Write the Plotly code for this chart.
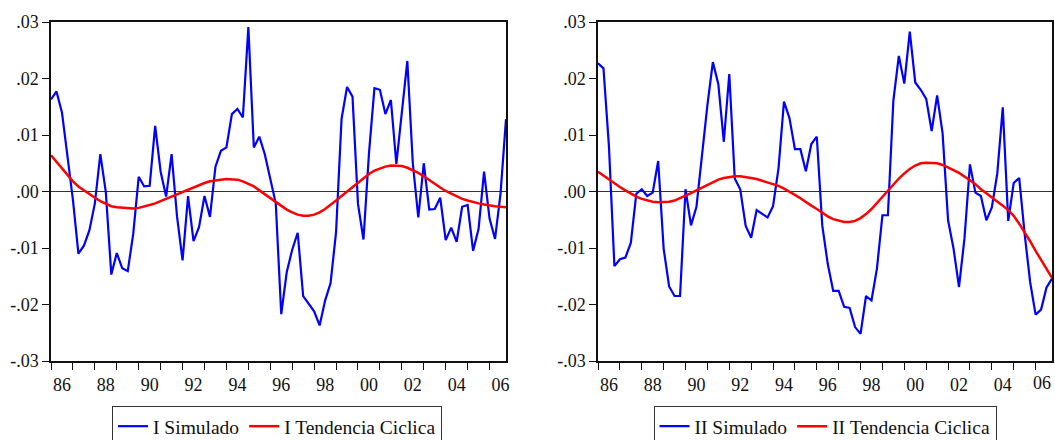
import plotly.graph_objects as go

# Quarterly observations 1986Q1 .. 2006Q4 (84 quarters)
quarters = [1986 + q / 4 for q in range(84)]

sim_I = [
    0.0163, 0.0177, 0.0140, 0.0060, -0.0015, -0.0110, -0.0096, -0.0069, -0.0021, 0.0066,
    -0.0001, -0.0147, -0.0109, -0.0136, -0.0141, -0.0075, 0.0026, 0.0009, 0.0010, 0.0116,
    0.0035, -0.0009, 0.0066, -0.0045, -0.0122, -0.0008, -0.0088, -0.0063, -0.0008, -0.0045,
    0.0044, 0.0072, 0.0078, 0.0137, 0.0146, 0.0131, 0.0291, 0.0078, 0.0097, 0.0066,
    0.0023, -0.0021, -0.0217, -0.0143, -0.0103, -0.0073, -0.0185, -0.0198, -0.0212, -0.0237,
    -0.0193, -0.0162, -0.0072, 0.0128, 0.0185, 0.0168, -0.0022, -0.0085, 0.0067, 0.0183,
    0.0180, 0.0137, 0.0162, 0.0049, 0.0141, 0.0231, 0.0050, -0.0046, 0.0050, -0.0032,
    -0.0031, -0.0011, -0.0086, -0.0064, -0.0089, -0.0027, -0.0024, -0.0105, -0.0066, 0.0035,
    -0.0048, -0.0084, -0.0004, 0.0128,
]

trend_I = [
    0.0064, 0.0052, 0.0040, 0.0028, 0.0018, 0.0009, 0.0002, -0.0005, -0.0011, -0.0017,
    -0.0022, -0.0026, -0.0028, -0.0029, -0.0030, -0.0030, -0.0029, -0.0027, -0.0024, -0.0021,
    -0.0017, -0.0013, -0.0009, -0.0004, 0.0000, 0.0004, 0.0008, 0.0012, 0.0015, 0.0018,
    0.0020, 0.0021, 0.0022, 0.0022, 0.0021, 0.0018, 0.0014, 0.0009, 0.0002, -0.0005,
    -0.0012, -0.0019, -0.0026, -0.0032, -0.0037, -0.0041, -0.0043, -0.0043, -0.0041, -0.0037,
    -0.0031, -0.0024, -0.0016, -0.0008, 0.0000, 0.0008, 0.0016, 0.0024, 0.0031, 0.0037,
    0.0041, 0.0044, 0.0046, 0.0046, 0.0045, 0.0042, 0.0038, 0.0033, 0.0027, 0.0020,
    0.0013, 0.0007, 0.0001, -0.0004, -0.0009, -0.0013, -0.0016, -0.0019, -0.0021, -0.0023,
    -0.0025, -0.0026, -0.0027, -0.0028,
]

sim_II = [
    0.0227, 0.0218, 0.0080, -0.0132, -0.0120, -0.0117, -0.0091, -0.0004, 0.0004, -0.0008,
    -0.0002, 0.0054, -0.0101, -0.0168, -0.0185, -0.0185, 0.0004, -0.0060, -0.0027, 0.0062,
    0.0153, 0.0229, 0.0190, 0.0088, 0.0208, 0.0023, 0.0004, -0.0061, -0.0082, -0.0033,
    -0.0040, -0.0046, -0.0026, 0.0041, 0.0159, 0.0130, 0.0075, 0.0075, 0.0036, 0.0084,
    0.0097, -0.0060, -0.0128, -0.0176, -0.0176, -0.0204, -0.0206, -0.0240, -0.0252, -0.0185,
    -0.0193, -0.0136, -0.0042, -0.0042, 0.0161, 0.0240, 0.0191, 0.0283, 0.0193, 0.0180,
    0.0164, 0.0107, 0.0170, 0.0103, -0.0051, -0.0101, -0.0169, -0.0083, 0.0048, -0.0002,
    -0.0008, -0.0051, -0.0028, 0.0032, 0.0149, -0.0052, 0.0015, 0.0024, -0.0075, -0.0160,
    -0.0218, -0.0209, -0.0170, -0.0154,
]

trend_II = [
    0.0035, 0.0028, 0.0021, 0.0014, 0.0008, 0.0002, -0.0004, -0.0009, -0.0013, -0.0016,
    -0.0018, -0.0019, -0.0019, -0.0018, -0.0016, -0.0012, -0.0008, -0.0003, 0.0002, 0.0007,
    0.0012, 0.0017, 0.0021, 0.0024, 0.0026, 0.0027, 0.0027, 0.0026, 0.0024, 0.0022,
    0.0019, 0.0016, 0.0013, 0.0010, 0.0005, 0.0000, -0.0006, -0.0012, -0.0019, -0.0025,
    -0.0031, -0.0038, -0.0044, -0.0049, -0.0052, -0.0054, -0.0054, -0.0052, -0.0047, -0.0040,
    -0.0031, -0.0020, -0.0009, 0.0002, 0.0013, 0.0023, 0.0032, 0.0040, 0.0046, 0.0050,
    0.0051, 0.0051, 0.0050, 0.0047, 0.0043, 0.0038, 0.0033, 0.0027, 0.0020, 0.0013,
    0.0004, -0.0003, -0.0010, -0.0017, -0.0025, -0.0033, -0.0043, -0.0057, -0.0072, -0.0088,
    -0.0105, -0.0121, -0.0137, -0.0153,
]

year_ticks = list(range(1986, 2007, 2))
year_labels = ["%02d" % (y % 100) for y in year_ticks]
y_ticks = [-0.03, -0.02, -0.01, 0.0, 0.01, 0.02, 0.03]
y_labels = ["-.03", "-.02", "-.01", ".00", ".01", ".02", ".03"]

FONT = "'Liberation Serif', 'Times New Roman', Times, serif"
BLUE = "#0000FF"
RED = "#FF0000"
W, H = 1055, 440
T = 22
B = H - 361


def fx(px):
    return px / W


fig = go.Figure()
fig.add_trace(go.Scatter(x=quarters, y=sim_I, mode="lines", name="I Simulado",
                         line=dict(color=BLUE, width=2.2), xaxis="x", yaxis="y", legend="legend"))
fig.add_trace(go.Scatter(x=quarters, y=trend_I, mode="lines", name="I Tendencia Ciclica",
                         line=dict(color=RED, width=2.5), xaxis="x", yaxis="y", legend="legend"))
fig.add_trace(go.Scatter(x=quarters, y=sim_II, mode="lines", name="II Simulado",
                         line=dict(color=BLUE, width=2.2), xaxis="x2", yaxis="y2", legend="legend2"))
fig.add_trace(go.Scatter(x=quarters, y=trend_II, mode="lines", name="II Tendencia Ciclica",
                         line=dict(color=RED, width=2.5), xaxis="x2", yaxis="y2", legend="legend2"))

tickfont = dict(family=FONT, size=18, color="#111")
xcommon = dict(range=[1986, 2006.75], tickmode="array", tickvals=year_ticks,
               ticks="outside", ticklen=7, tickwidth=1.2, tickcolor="#111", ticklabelshift=11,
               minor=dict(tickmode="linear", tick0=1986, dtick=1, ticks="outside", ticklen=7,
                          tickwidth=1.2, tickcolor="#111"),
               showline=True, mirror=True, linecolor="#111", linewidth=1.5,
               showgrid=False, zeroline=False, fixedrange=True, tickfont=tickfont)
ycommon = dict(range=[-0.03, 0.03], tickmode="array", tickvals=y_ticks, ticktext=y_labels,
               ticks="outside", ticklen=7, tickwidth=1.2, tickcolor="#111",
               showline=True, mirror=True, linecolor="#111", linewidth=1.5,
               showgrid=False, zeroline=True, zerolinecolor="#333", zerolinewidth=1,
               fixedrange=True, tickfont=tickfont)

legend_common = dict(orientation="h", yanchor="top", xanchor="center",
                     bordercolor="#333", borderwidth=1, bgcolor="white",
                     font=dict(family=FONT, size=19.5, color="#111"), itemwidth=30)
plot_h = H - T - B
leg_y = (361 - 406) / plot_h

# right panel: the last year label is pulled inside the frame (as in the original)
labels_right = year_labels[:-1] + [""]

fig.update_layout(
    width=W, height=H,
    margin=dict(l=0, r=0, t=T, b=B, autoexpand=False),
    paper_bgcolor="white", plot_bgcolor="white",
    xaxis=dict(domain=[fx(51), fx(506)], anchor="y", ticktext=year_labels, **xcommon),
    yaxis=dict(domain=[0, 1], anchor="x", **ycommon),
    xaxis2=dict(domain=[fx(598), fx(1052)], anchor="y2", ticktext=labels_right, **xcommon),
    yaxis2=dict(domain=[0, 1], anchor="x2", **ycommon),
    legend=dict(x=fx(277), y=leg_y, **legend_common),
    legend2=dict(x=fx(825), y=leg_y, **legend_common),
    showlegend=True,
    annotations=[dict(text=year_labels[-1], x=year_ticks[-1], xref="x2", y=0, yref="paper",
                      xanchor="center", yanchor="top", xshift=6, yshift=-10, showarrow=False,
                      font=tickfont)],
)

fig.write_html(
    "out.html",
    config={"displayModeBar": False},
    post_script="document.documentElement.style.overflow='hidden';"
                "document.body.style.margin='0';document.body.style.overflow='hidden';",
)
